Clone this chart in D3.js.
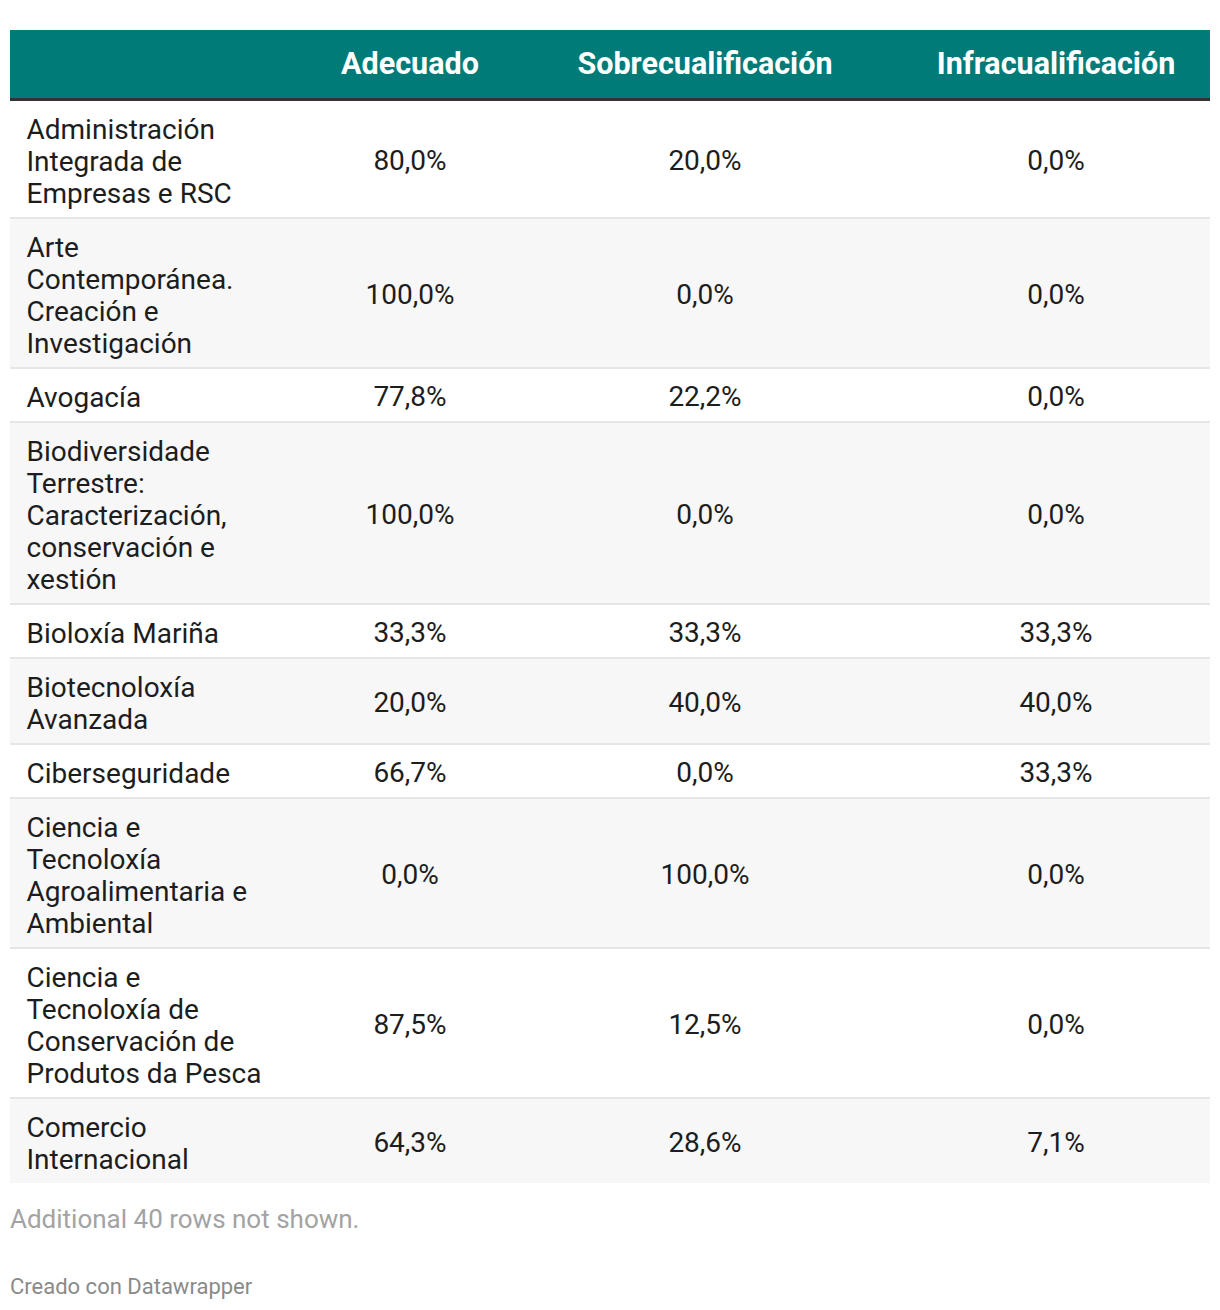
<!DOCTYPE html>
<html><head><meta charset="utf-8">
<script src="https://cdn.jsdelivr.net/npm/d3@7"></script>
<style>body{margin:0;background:#fff;} svg{display:block;font-family:Roboto,sans-serif;}</style>
</head><body>
<svg id="chart" width="1220" height="1310"></svg>
<script>
const columns = ["Adecuado", "Sobrecualificación", "Infracualificación"];
const categories = [
  "Administración Integrada de Empresas e RSC",
  "Arte Contemporánea. Creación e Investigación",
  "Avogacía",
  "Biodiversidade Terrestre: Caracterización, conservación e xestión",
  "Bioloxía Mariña",
  "Biotecnoloxía Avanzada",
  "Ciberseguridade",
  "Ciencia e Tecnoloxía Agroalimentaria e Ambiental",
  "Ciencia e Tecnoloxía de Conservación de Produtos da Pesca",
  "Comercio Internacional"
];
const adecuado = [80.0, 100.0, 77.8, 100.0, 33.3, 20.0, 66.7, 0.0, 87.5, 64.3];
const sobrecualificacion = [20.0, 0.0, 22.2, 0.0, 33.3, 40.0, 0.0, 100.0, 12.5, 28.6];
const infracualificacion = [0.0, 0.0, 0.0, 0.0, 33.3, 40.0, 33.3, 0.0, 0.0, 7.1];
const footnote = "Additional 40 rows not shown.";
const credit = "Creado con Datawrapper";

const series = [adecuado, sobrecualificacion, infracualificacion];
const fmt = v => d3.format(".1f")(v).replace(".", ",") + "%";

const svg = d3.select("#chart");
const left = 10, right = 1210;
const colCenters = [410, 705, 1056];
const lineH = 32, pad = 10, sep = 2;
const wrapW = 236;
const fs = 28;

// header
svg.append("rect").attr("x", left).attr("y", 30).attr("width", right - left).attr("height", 68).attr("fill", "#007b78");
svg.append("rect").attr("x", left).attr("y", 98).attr("width", right - left).attr("height", 3).attr("fill", "#333333");
svg.selectAll("text.hdr").data(columns).join("text").attr("class", "hdr")
  .attr("x", (d, i) => colCenters[i]).attr("y", 74).attr("text-anchor", "middle")
  .attr("font-size", 30.5).attr("font-weight", 700).attr("fill", "#ffffff").text(d => d);

// measure/wrap
const meas = svg.append("text").attr("font-size", fs).attr("visibility", "hidden");
function wrap(str) {
  const words = str.split(" ");
  const lines = [];
  let cur = "";
  words.forEach(w => {
    const t = cur ? cur + " " + w : w;
    meas.text(t);
    if (cur && meas.node().getComputedTextLength() > wrapW) { lines.push(cur); cur = w; }
    else cur = t;
  });
  if (cur) lines.push(cur);
  return lines;
}
const rows = categories.map((c, i) => ({ name: c, lines: wrap(c), vals: series.map(s => s[i]) }));
meas.remove();

let y = 101;
rows.forEach((r, i) => {
  r.y = y;
  r.h = r.lines.length * lineH + 2 * pad;
  y += r.h + (i < rows.length - 1 ? sep : 0);
});

const g = svg.selectAll("g.row").data(rows).join("g").attr("class", "row")
  .attr("transform", d => `translate(0,${d.y})`);
g.append("rect").attr("x", left).attr("width", right - left).attr("height", d => d.h)
  .attr("fill", (d, i) => i % 2 ? "#f7f7f7" : "#ffffff");
g.filter((d, i) => i < rows.length - 1).append("rect").attr("x", left).attr("y", d => d.h)
  .attr("width", right - left).attr("height", sep).attr("fill", "#e6e6e6");
g.append("text").attr("x", 27).attr("font-size", fs).attr("fill", "#1d1d1d")
  .selectAll("tspan").data(d => d.lines).join("tspan")
  .attr("x", 26.5).attr("y", (d, i) => pad + i * lineH + 27.5).text(d => d);
g.each(function (d) {
  d3.select(this).selectAll("text.val").data(d.vals).join("text").attr("class", "val")
    .attr("x", (v, j) => colCenters[j]).attr("y", d.h / 2 + 11).attr("text-anchor", "middle")
    .attr("font-size", fs).attr("fill", "#1d1d1d").text(v => fmt(v));
});

svg.append("text").attr("x", left).attr("y", 1228).attr("font-size", 26).attr("fill", "#a3a3a3").text(footnote);
svg.append("text").attr("x", left).attr("y", 1294).attr("font-size", 22).attr("fill", "#8a8a8a").text(credit);
</script>
</body></html>
